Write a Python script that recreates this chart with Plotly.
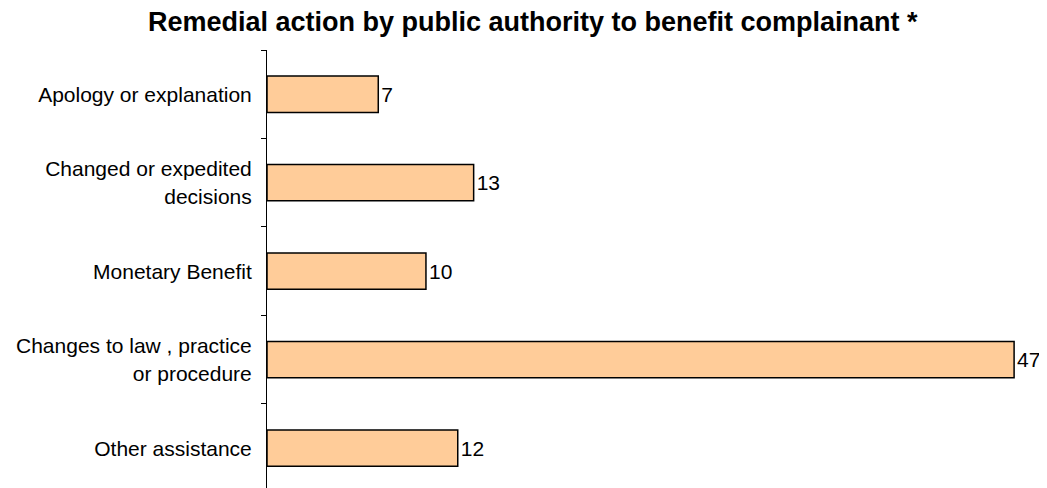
import plotly.graph_objects as go

categories = ["Apology or explanation", "Changed or expedited<br>decisions", "Monetary Benefit",
              "Changes to law , practice<br>or procedure", "Other assistance"]
values = [7, 13, 10, 47, 12]

fig = go.Figure(go.Bar(
    y=categories, x=values, orientation="h",
    marker=dict(color="#FFCC99", line=dict(color="black", width=1.5)),
    width=0.41,
    text=[str(v) for v in values], textposition="outside",
    textfont=dict(family="Liberation Sans, Arial", size=21, color="black"),
    cliponaxis=False,
))

fig.update_layout(
    width=1039, height=480,
    margin=dict(l=259, r=17, t=42, b=0),
    paper_bgcolor="white", plot_bgcolor="white",
    font=dict(family="Liberation Sans, Arial", size=21, color="black"),
    title=dict(text="<b>Remedial action by public authority to benefit complainant *</b>",
               x=0.505, xanchor="center", y=0.992, yanchor="top", pad=dict(t=0),
               font=dict(size=27, color="black")),
    showlegend=False,
)
fig.update_xaxes(range=[0, 48], visible=False, automargin=False)
fig.update_yaxes(range=[4.45, -0.5], showline=True, linecolor="black", linewidth=1,
                 ticks="outside", tickson="boundaries", ticklen=5, tickcolor="black",
                 showgrid=False, ticklabelstandoff=10, automargin=False,
                 tickfont=dict(size=21))

fig.write_html("out.html")
